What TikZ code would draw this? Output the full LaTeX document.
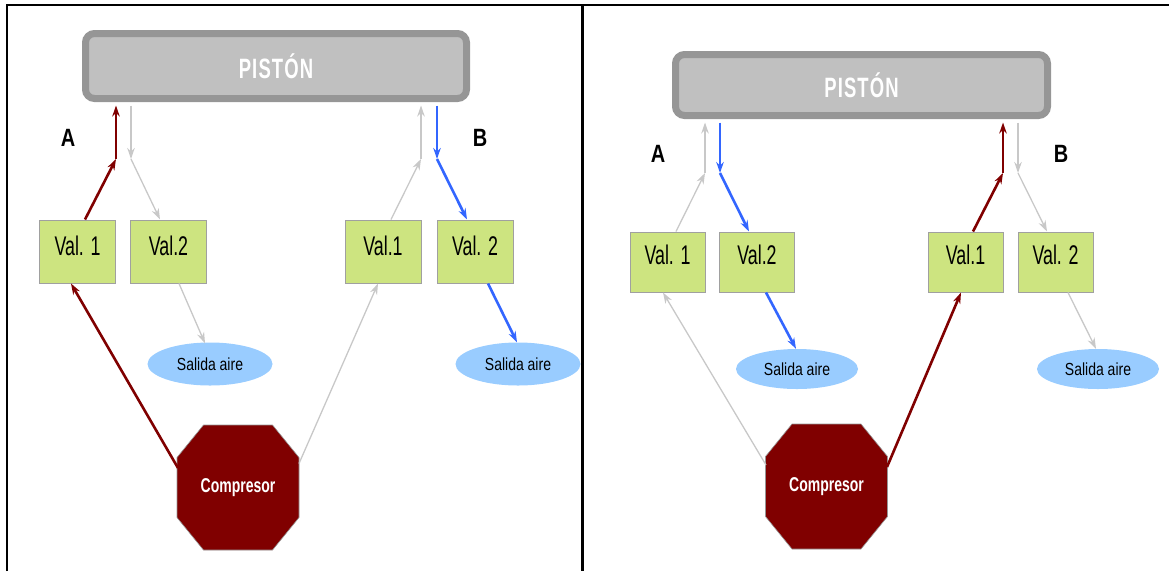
\documentclass[tikz,border=0pt]{standalone}
\usepackage{fontspec}
\setmainfont{Liberation Sans}
\newfontfamily\fval[FakeStretch=0.66]{Liberation Sans}
\newfontfamily\fpis[FakeStretch=0.66,LetterSpace=4]{Liberation Sans}
\newfontfamily\fsal[FakeStretch=0.80]{Liberation Sans}
\newfontfamily\fab[FakeStretch=0.80]{Liberation Sans}
\newfontfamily\fcomp[FakeStretch=0.70]{Liberation Sans}
\usetikzlibrary{calc,arrows.meta,shapes.geometric}
\definecolor{dred}{HTML}{800000}
\definecolor{lgray}{HTML}{C8C8C8}
\definecolor{bblue}{HTML}{3366FF}
\definecolor{vgreen}{HTML}{CDE480}
\definecolor{vborder}{HTML}{A0A0A0}
\definecolor{sblue}{HTML}{99CCFF}
\definecolor{pfill}{HTML}{C0C0C0}
\definecolor{pborder}{HTML}{969696}
\tikzset{
  piston/.style={draw=pborder, line width=7pt, fill=pfill, rounded corners=9pt,
    text=white, font=\fpis\bfseries\fontsize{28}{30}\selectfont, inner sep=0pt},
  valbox/.style={draw=vborder, line width=1pt, fill=vgreen, inner sep=0pt,
    minimum width=76pt, text height=35pt, text depth=28pt,
    font=\fval\fontsize{27}{30}\selectfont},
  valboxr/.style={valbox, text height=32pt, text depth=28pt, minimum width=75pt},
  salida/.style={ellipse, fill=sblue, inner sep=0pt, minimum width=125pt, minimum height=43pt,
    font=\fsal\fontsize{17.5}{20}\selectfont},
  salidar/.style={salida, minimum width=122pt, minimum height=40pt},
  comptext/.style={text=white, font=\fcomp\bfseries\fontsize{20}{22}\selectfont, inner sep=0pt},
  ablabel/.style={font=\fab\bfseries\fontsize{25}{27}\selectfont, inner sep=0pt},
  redarr/.style={draw=dred, line width=2.6pt, -{Stealth[length=11pt,width=7.5pt]}},
  bluearr/.style={draw=bblue, line width=2.6pt, -{Stealth[length=11pt,width=7.5pt]}},
  grayarr/.style={draw=lgray, line width=1.3pt, -{Stealth[length=11pt,width=7.5pt]}},
  octo/.style={fill=dred, draw=pborder, line width=0.6pt},
  frameline/.style={draw=black, line width=2.6pt},
}
\newcommand\octagon[1]{%
  \path[octo] ($(#1)+(-34.5,-62.5)$) -- ($(#1)+(34.5,-62.5)$) -- ($(#1)+(61,-30)$)
    -- ($(#1)+(61,30)$) -- ($(#1)+(34.5,62.5)$) -- ($(#1)+(-34.5,62.5)$)
    -- ($(#1)+(-61,30)$) -- ($(#1)+(-61,-30)$) -- cycle;}
\begin{document}
\begin{tikzpicture}[x=1pt,y=-1pt]
\useasboundingbox (0,0) rectangle (1169,571);
% frame
\draw[frameline] (7,571) -- (7,5) -- (1169,5);
\draw[frameline, line width=3pt] (582,5) -- (582,571);

% ================= LEFT PANEL =================
\node[piston, minimum width=381pt, minimum height=65pt] (pisL) at (276,66) {PISTÓN};
\node[ablabel] (aL) at (68,138) {A};
\node[ablabel] (bL) at (480,138) {B};
\node[valbox] (v1L) at (77.5,251.5) {Val. 1};
\node[valbox] (v2L) at (168.5,251.5) {Val.2};
\node[valbox] (v3L) at (383,251.5) {Val.1};
\node[valbox] (v4L) at (475,251.5) {Val. 2};
\node[salida] (s1L) at (210,364) {Salida aire};
\node[salida] (s2L) at (518,364) {Salida aire};
\coordinate (cLc) at (238,487.5);
\octagon{cLc}
\node[comptext] (cL) at (cLc) {Compresor};
\coordinate (cLl) at ($(cLc)+(-60,-19.5)$);
\coordinate (cLr) at ($(cLc)+(61,-24)$);
% kinks
\coordinate (kL1) at (116,159);
\coordinate (kL2) at (131,159);
\coordinate (kL3) at (421,159);
\coordinate (kL4) at (437,159);
% connectors
\draw[redarr] (cLl) -- ($(v1L.south)+(-6.5,0)$);
\draw[redarr] ($(v1L.north)+(7.5,0)$) -- (kL1);
\draw[redarr] (kL1) -- ($(kL1 |- pisL.south)+(0,3.5)$);
\draw[grayarr] ($(kL2 |- pisL.south)+(0,3.5)$) -- (kL2);
\draw[grayarr] (kL2) -- ($(v2L.north)+(-8.5,0)$);
\draw[grayarr] ($(v2L.south)+(10.5,0)$) -- ($(s1L.north)+(-5,1)$);
\draw[grayarr] (cLr) -- ($(v3L.south)+(-5,0)$);
\draw[grayarr] ($(v3L.north)+(8,0)$) -- (kL3);
\draw[grayarr] (kL3) -- ($(kL3 |- pisL.south)+(0,3.5)$);
\draw[bluearr] ($(kL4 |- pisL.south)+(0,3.5)$) -- (kL4);
\draw[bluearr] (kL4) -- ($(v4L.north)+(-8,0)$);
\draw[bluearr] ($(v4L.south)+(13,0)$) -- ($(s2L.north)+(-1,0)$);

% ================= RIGHT PANEL =================
\node[piston, minimum width=372pt, minimum height=61pt] (pisR) at (861.5,85) {PISTÓN};
\node[ablabel] (aR) at (658,154) {A};
\node[ablabel] (bR) at (1061,154) {B};
\node[valboxr] (v1R) at (667.5,262) {Val. 1};
\node[valboxr] (v2R) at (757,262) {Val.2};
\node[valboxr] (v3R) at (965.5,262) {Val.1};
\node[valboxr] (v4R) at (1055.5,262) {Val. 2};
\node[salidar] (s1R) at (797,369) {Salida aire};
\node[salidar] (s2R) at (1098,369) {Salida aire};
\coordinate (cRc) at (826.5,486.5);
\octagon{cRc}
\node[comptext] (cR) at (cRc) {Compresor};
\coordinate (cRl) at ($(cRc)+(-60.5,-21.5)$);
\coordinate (cRr) at ($(cRc)+(60.5,-19.5)$);
\coordinate (kR1) at (705,173);
\coordinate (kR2) at (720,173);
\coordinate (kR3) at (1003,173);
\coordinate (kR4) at (1018,173);
\draw[grayarr] (cRl) -- ($(v1R.south)+(-4.5,0)$);
\draw[grayarr] ($(v1R.north)+(8.5,0)$) -- (kR1);
\draw[grayarr] (kR1) -- ($(kR1 |- pisR.south)+(0,3.5)$);
\draw[bluearr] ($(kR2 |- pisR.south)+(0,3.5)$) -- (kR2);
\draw[bluearr] (kR2) -- ($(v2R.north)+(-8,0)$);
\draw[bluearr] ($(v2R.south)+(9,0)$) -- ($(s1R.north)+(-1,0)$);
\draw[redarr] (cRr) -- ($(v3R.south)+(-4.5,0)$);
\draw[redarr] ($(v3R.north)+(7.5,0)$) -- (kR3);
\draw[redarr] (kR3) -- ($(kR3 |- pisR.south)+(0,3.5)$);
\draw[grayarr] ($(kR4 |- pisR.south)+(0,3.5)$) -- (kR4);
\draw[grayarr] (kR4) -- ($(v4R.north)+(-8.5,0)$);
\draw[grayarr] ($(v4R.south)+(12.5,0)$) -- ($(s2R.north)+(-2,0)$);
\end{tikzpicture}
\end{document}
